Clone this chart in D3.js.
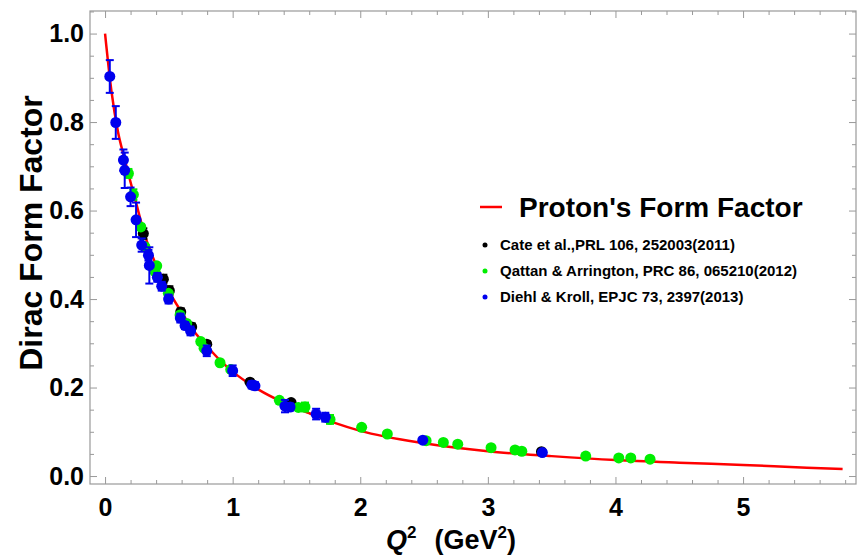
<!doctype html>
<html lang="en">
  <head>
    <meta charset="UTF-8" />
    <title>Dirac Form Factor</title>
    <style>
      body {
        margin: 0;
        background: #fff;
      }
      svg text {
        font-family: "Liberation Sans", Arial, sans-serif;
        font-weight: bold;
      }
    </style>
  </head>
  <body>
    <svg id="chart"></svg>
    <script src="https://d3js.org/d3.v7.min.js"></script>
    <script>
      /* global d3 */

      // model curve
      const curveQ2 = [0, 0.05, 0.1, 0.15, 0.2, 0.25, 0.3, 0.4, 0.5, 0.6, 0.7, 0.8, 0.9,
        1.0, 1.2, 1.4, 1.6, 1.8, 2.0, 2.5, 3.0, 3.5, 4.0, 4.5, 5.0, 5.5, 5.78];
      const curveF = [1.0, 0.87, 0.78, 0.72, 0.664, 0.61, 0.555, 0.477, 0.418, 0.37, 0.326,
        0.293, 0.262, 0.236, 0.196, 0.166, 0.142, 0.12, 0.102, 0.074, 0.056, 0.045,
        0.036, 0.03, 0.025, 0.019, 0.016];

      // Cate et al., PRL 106, 252003 (2011)
      const cateQ2 = [0.3, 0.457, 0.504, 0.593, 0.679, 0.797, 1.136, 1.458, 3.42];
      const cateF = [0.548, 0.445, 0.419, 0.371, 0.337, 0.298, 0.212, 0.166, 0.055];
      const cateErr = [0.012, 0.01, 0.01, 0.008, 0.008, 0.007, 0.006, 0.006, 0.004];

      // Qattan & Arrington, PRC 86, 065210 (2012)
      const qattanQ2 = [0.183, 0.222, 0.28, 0.313, 0.392, 0.405, 0.496, 0.588, 0.64, 0.75,
        0.776, 0.901, 0.985, 1.366, 1.515, 1.567, 1.763, 2.011, 2.212, 2.516, 2.651,
        2.764, 3.025, 3.213, 3.266, 3.767, 4.026, 4.12, 4.271];
      const qattanF = [0.684, 0.636, 0.563, 0.518, 0.462, 0.475, 0.413, 0.364, 0.345, 0.304,
        0.289, 0.256, 0.241, 0.171, 0.155, 0.156, 0.128, 0.11, 0.095, 0.08, 0.076,
        0.072, 0.064, 0.059, 0.056, 0.045, 0.041, 0.041, 0.038];
      const qattanErr = [0.01, 0.012, 0.006, 0.006, 0.005, 0.005, 0.005, 0.005, 0.004, 0.004,
        0.004, 0.003, 0.003, 0.003, 0.004, 0.01, 0.01, 0.002, 0.002, 0.002, 0.002,
        0.002, 0.002, 0.002, 0.002, 0.002, 0.002, 0.002, 0.002];

      // Diehl & Kroll, EPJC 73, 2397 (2013)
      const diehlQ2 = [0.037, 0.084, 0.144, 0.154, 0.2, 0.243, 0.287, 0.34, 0.347, 0.41,
        0.444, 0.498, 0.59, 0.627, 0.67, 0.797, 1.0, 1.15, 1.175, 1.41, 1.45, 1.654,
        1.726, 2.49, 3.427];
      const diehlF = [0.903, 0.799, 0.714, 0.691, 0.631, 0.579, 0.522, 0.499, 0.476, 0.449,
        0.429, 0.4, 0.357, 0.34, 0.328, 0.283, 0.238, 0.206, 0.204, 0.158, 0.156, 0.14,
        0.133, 0.081, 0.053];
      const diehlErr = [0.037, 0.037, 0.024, 0.04, 0.021, 0.039, 0.015, 0.012, 0.041, 0.01,
        0.01, 0.01, 0.01, 0.008, 0.01, 0.012, 0.012, 0.008, 0.008, 0.014, 0.008, 0.012,
        0.01, 0.004, 0.004];

      const xMajor = [0, 1, 2, 3, 4, 5];
      const yMajor = [0.0, 0.2, 0.4, 0.6, 0.8, 1.0];

      const width = 857,
        height = 557;
      const frame = { left: 90, right: 856, top: 11, bottom: 484 };

      const svg = d3
        .select("#chart")
        .attr("width", width)
        .attr("height", height)
        .attr("viewBox", [0, 0, width, height]);

      const x = d3.scaleLinear().domain([-0.118, 5.885]).range([frame.left, frame.right]);
      const y = d3.scaleLinear().domain([-0.018, 1.051]).range([frame.bottom, frame.top]);

      const xMinor = d3.range(-0.0, 5.81, 0.2).filter((v) => Math.abs(v - Math.round(v)) > 1e-6);
      const yMinor = d3.range(0, 1.051, 0.05).filter((v) => Math.abs(v * 5 - Math.round(v * 5)) > 1e-6);

      const frameColor = "#999";

      function styleAxis(g) {
        g.select(".domain").remove();
        g.selectAll(".tick line").attr("stroke", frameColor);
        g.selectAll(".tick text").attr("fill", "#000").style("font-size", "25px");
      }

      // bottom
      svg.append("g")
        .attr("transform", `translate(0,${frame.bottom})`)
        .call(d3.axisBottom(x).tickValues(xMajor).tickFormat(d3.format("d")).tickSize(-7).tickPadding(14))
        .call(styleAxis);
      svg.append("g")
        .attr("transform", `translate(0,${frame.bottom})`)
        .call(d3.axisBottom(x).tickValues(xMinor).tickFormat("").tickSize(-4))
        .call(styleAxis);
      // top
      svg.append("g")
        .attr("transform", `translate(0,${frame.top})`)
        .call(d3.axisTop(x).tickValues(xMajor).tickFormat("").tickSize(-7))
        .call(styleAxis);
      svg.append("g")
        .attr("transform", `translate(0,${frame.top})`)
        .call(d3.axisTop(x).tickValues(xMinor).tickFormat("").tickSize(-4))
        .call(styleAxis);
      // left
      svg.append("g")
        .attr("transform", `translate(${frame.left},0)`)
        .call(d3.axisLeft(y).tickValues(yMajor).tickFormat(d3.format(".1f")).tickSize(-7).tickPadding(6))
        .call(styleAxis);
      svg.append("g")
        .attr("transform", `translate(${frame.left},0)`)
        .call(d3.axisLeft(y).tickValues(yMinor).tickFormat("").tickSize(-4))
        .call(styleAxis);
      // right
      svg.append("g")
        .attr("transform", `translate(${frame.right},0)`)
        .call(d3.axisRight(y).tickValues(yMajor).tickFormat("").tickSize(-7))
        .call(styleAxis);
      svg.append("g")
        .attr("transform", `translate(${frame.right},0)`)
        .call(d3.axisRight(y).tickValues(yMinor).tickFormat("").tickSize(-4))
        .call(styleAxis);

      svg.append("rect")
        .attr("x", frame.left)
        .attr("y", frame.top)
        .attr("width", frame.right - frame.left)
        .attr("height", frame.bottom - frame.top)
        .attr("fill", "none")
        .attr("stroke", frameColor)
        .attr("stroke-width", 1.2);

      // model curve
      const line = d3.line().x((d) => x(d[0])).y((d) => y(d[1])).curve(d3.curveMonotoneX);
      svg.append("path")
        .datum(d3.zip(curveQ2, curveF))
        .attr("d", line)
        .attr("fill", "none")
        .attr("stroke", "#ff0000")
        .attr("stroke-width", 2.5);

      const series = [
        { q2: cateQ2, f: cateF, err: cateErr, color: "#000000", label: "Cate et al.,PRL 106, 252003(2011)" },
        { q2: qattanQ2, f: qattanF, err: qattanErr, color: "#00ee00", label: "Qattan & Arrington, PRC 86, 065210(2012)" },
        { q2: diehlQ2, f: diehlF, err: diehlErr, color: "#0000ee", label: "Diehl & Kroll, EPJC 73, 2397(2013)" },
      ];

      series.forEach((s) => {
        const pts = d3.zip(s.q2, s.f, s.err);
        const g = svg.append("g").attr("stroke", s.color).attr("fill", s.color);
        pts.forEach(([q, f, e]) => {
          const cx = x(q);
          g.append("line")
            .attr("x1", cx).attr("x2", cx)
            .attr("y1", y(f - e)).attr("y2", y(f + e))
            .attr("stroke-width", 2);
          [f - e, f + e].forEach((v) => {
            g.append("line")
              .attr("x1", cx - 4).attr("x2", cx + 4)
              .attr("y1", y(v)).attr("y2", y(v))
              .attr("stroke-width", 2);
          });
        });
        g.selectAll("circle")
          .data(pts)
          .join("circle")
          .attr("cx", (d) => x(d[0]))
          .attr("cy", (d) => y(d[1]))
          .attr("r", 5.5)
          .attr("stroke", "none");
      });

      // legend
      const legend = svg.append("g");
      legend.append("line")
        .attr("x1", 480).attr("x2", 502)
        .attr("y1", 207).attr("y2", 207)
        .attr("stroke", "#ff0000")
        .attr("stroke-width", 2.5);
      legend.append("text")
        .attr("x", 519).attr("y", 207).attr("dy", "0.35em")
        .style("font-size", "28px")
        .text("Proton's Form Factor");

      series.forEach((s, i) => {
        const ly = 245 + i * 26;
        legend.append("circle").attr("cx", 485).attr("cy", ly).attr("r", 2.5).attr("fill", s.color);
        legend.append("text")
          .attr("x", 500).attr("y", ly).attr("dy", "0.35em")
          .style("font-size", "15px")
          .text(s.label);
      });

      // axis titles
      svg.append("text")
        .attr("transform", `translate(42,233) rotate(-90)`)
        .attr("text-anchor", "middle")
        .style("font-size", "32px")
        .text("Dirac Form Factor");

      const xt = svg.append("text")
        .attr("x", 451).attr("y", 549)
        .attr("text-anchor", "middle")
        .style("font-size", "27px");
      xt.append("tspan").style("font-style", "italic").text("Q");
      xt.append("tspan").attr("dy", -11).style("font-size", "17px").text("2");
      xt.append("tspan").attr("dy", 11).attr("dx", 18).text("(GeV");
      xt.append("tspan").attr("dy", -11).style("font-size", "17px").text("2");
      xt.append("tspan").attr("dy", 11).text(")");
    </script>
  </body>
</html>
